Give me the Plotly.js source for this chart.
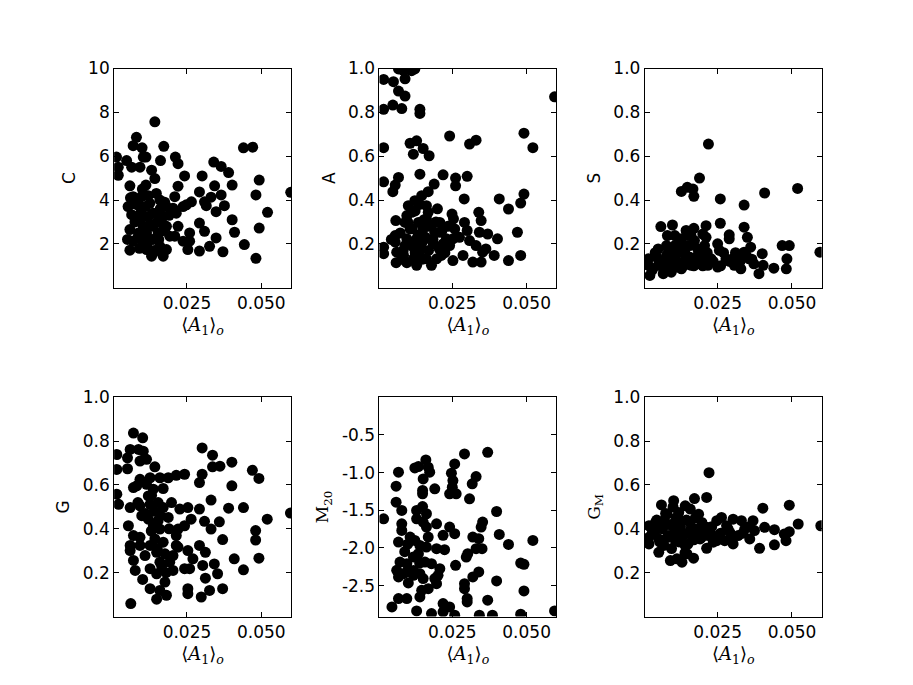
<!DOCTYPE html>
<html>
<head>
<meta charset="utf-8">
<script src="https://cdn.plot.ly/plotly-3.0.1.min.js"></script>
<style>
  html, body { margin: 0; padding: 0; background: #fff; }
  #plot { width: 913px; height: 685px; }
</style>
</head>
<body>
<div id="plot"></div>
<script>
// concentration C
var cX = [0.0142,0.0080,0.0069,0.0099,0.0172,0.0013,0.0019,0.0019,0.0047,0.0064,0.0092,0.0112,0.0131,0.0161,0.0211,0.0220,0.0242,0.0301,0.0340,0.0365,0.0390,0.0440,0.0471,0.0493,0.0402,0.0343,0.0220,0.0142,0.0112,0.0058,0.0599,0.0482,0.0521,0.0493,0.0443,0.0482,0.0402,0.0410,0.0371,0.0365,0.0376,0.0348,0.0348,0.0326,0.0292,0.0292,0.0309,0.0315,0.0331,0.0292,0.0309,0.0259,0.0259,0.0253,0.0248,0.0265,0.0237,0.0209,0.0203,0.0214,0.0220,0.0209,0.0237,0.0181,0.0170,0.0131,0.0114,0.0058,0.0069,0.0058,0.0052,0.0069,0.0064,0.0092,0.0092,0.0087,0.0103,0.0103,0.0120,0.0136,0.0136,0.0147,0.0147,0.0159,0.0170,0.0181,0.0192,0.0159,0.0165,0.0125,0.0181,0.0114,0.0153,0.0097,0.0103,
    0.0075,0.0085,0.0095,0.0105,0.0110,0.0115,0.0125,0.0128,0.0135,0.0140,0.0150,0.0155,0.0160,0.0165,0.0170,0.0080,0.0090,0.0120,0.0175,0.0060,0.0050,0.0100,0.0190];
var cY = [7.57,6.86,6.48,6.38,6.45,5.96,5.50,5.13,5.80,5.50,5.50,5.96,5.36,5.80,5.96,5.66,5.10,5.10,5.73,5.53,5.25,6.38,6.41,4.91,4.68,4.65,4.63,4.98,4.68,4.65,4.35,4.23,3.44,2.72,1.97,1.34,3.10,2.53,1.64,4.23,3.74,3.47,2.27,1.89,1.67,4.37,3.92,3.74,4.13,2.95,2.57,2.50,2.12,1.74,3.78,3.92,3.70,4.15,3.63,3.40,2.80,2.35,2.12,1.74,1.44,1.44,1.74,1.71,2.12,2.65,3.70,4.15,3.33,3.70,3.10,2.50,2.80,2.12,3.25,2.80,2.20,3.40,4.30,4.00,3.25,2.80,2.35,1.89,2.95,3.85,3.70,2.50,2.50,4.15,5.96,
    3.00,2.30,3.40,2.50,3.70,1.90,2.90,2.20,3.40,1.70,3.00,2.20,3.60,1.60,2.60,3.80,1.80,4.20,3.90,4.10,2.20,4.50,3.30];

// asymmetry A
var aX = [0.0069,0.0097,0.0124,0.0086,0.0113,0.0019,0.0052,0.0091,0.0069,0.0091,0.0594,0.0019,0.0050,0.0080,0.0141,0.0141,0.0241,0.0491,0.0521,0.0308,0.0330,0.0019,0.0108,0.0130,0.0119,0.0152,0.0172,0.0019,0.0069,0.0058,0.0050,0.0141,0.0219,0.0261,0.0261,0.0300,0.0189,0.0169,0.0147,0.0124,0.0102,0.0290,0.0408,0.0491,0.0480,0.0439,0.0339,0.0249,0.0254,0.0347,0.0291,0.0060,0.0097,0.0108,0.0091,0.0163,0.0169,0.0208,0.0208,0.0258,0.0300,0.0341,0.0369,0.0402,0.0469,0.0308,0.0330,0.0363,0.0391,0.0352,0.0480,0.0439,0.0347,0.0319,0.0286,0.0252,0.0241,0.0252,0.0219,0.0213,0.0180,0.0163,0.0141,0.0130,0.0152,0.0186,0.0191,0.0119,0.0097,0.0061,0.0063,0.0058,0.0058,0.0091,0.0097,0.0119,0.0019,0.0019,0.0152,0.0136,0.0113,0.0163,0.0169,0.0230,0.0274,0.0086,0.0197,0.0130,
    0.0045,0.0075,0.0085,0.0105,0.0115,0.0125,0.0135,0.0145,0.0155,0.0160,0.0170,0.0175,0.0185,0.0195,0.0205,0.0215,0.0225,0.0125,0.0140,0.0100,0.0080,0.0150,0.0235,0.0200];
var aY = [0.998,0.998,0.998,0.990,0.990,0.950,0.940,0.953,0.897,0.874,0.871,0.814,0.833,0.817,0.814,0.795,0.692,0.705,0.639,0.655,0.673,0.639,0.659,0.670,0.609,0.635,0.602,0.483,0.503,0.468,0.438,0.518,0.515,0.500,0.465,0.508,0.473,0.438,0.420,0.397,0.374,0.405,0.405,0.427,0.386,0.359,0.344,0.336,0.314,0.306,0.298,0.306,0.329,0.268,0.298,0.314,0.283,0.298,0.253,0.268,0.261,0.253,0.245,0.223,0.253,0.215,0.192,0.177,0.147,0.162,0.147,0.124,0.117,0.117,0.147,0.124,0.192,0.223,0.200,0.147,0.102,0.132,0.170,0.223,0.215,0.200,0.253,0.132,0.114,0.114,0.162,0.208,0.238,0.192,0.223,0.185,0.155,0.185,0.268,0.298,0.344,0.374,0.344,0.223,0.230,0.147,0.132,0.102,
    0.220,0.250,0.170,0.200,0.270,0.160,0.240,0.190,0.310,0.230,0.170,0.280,0.220,0.300,0.180,0.260,0.160,0.350,0.380,0.300,0.130,0.130,0.280,0.360];

// clumpiness S
var sX = [0.0219,0.0189,0.0128,0.0148,0.0167,0.0170,0.0259,0.0408,0.0519,0.0339,0.0059,0.0098,0.0211,0.0259,0.0339,0.0170,0.0144,0.0081,0.0289,0.0289,0.0350,0.0211,0.0467,0.0491,0.0483,0.0481,0.0594,0.0439,0.0400,0.0403,0.0389,0.0361,0.0339,0.0356,0.0317,0.0306,0.0328,0.0250,0.0256,0.0250,0.0228,0.0206,0.0183,0.0161,0.0128,0.0094,0.0067,0.0022,0.0017,0.0017,0.0044,0.0050,0.0078,0.0083,0.0106,0.0106,0.0128,0.0139,0.0144,0.0156,0.0172,0.0183,0.0200,0.0217,0.0117,0.0050,0.0078,0.0278,0.0300,0.0317,0.0372,0.0200,0.0150,0.0106,0.0122,0.0178,
    0.0030,0.0040,0.0060,0.0070,0.0085,0.0095,0.0105,0.0115,0.0120,0.0135,0.0140,0.0155,0.0160,0.0170,0.0190,0.0200,0.0215,0.0235,0.0260,0.0270,0.0290,0.0310,0.0325,0.0345,0.0365];
var sY = [0.655,0.500,0.439,0.458,0.450,0.417,0.405,0.432,0.453,0.377,0.279,0.286,0.283,0.294,0.276,0.271,0.261,0.238,0.241,0.223,0.230,0.230,0.192,0.192,0.132,0.086,0.162,0.089,0.155,0.102,0.064,0.185,0.162,0.132,0.147,0.102,0.086,0.200,0.170,0.094,0.132,0.192,0.147,0.102,0.086,0.071,0.064,0.056,0.132,0.102,0.139,0.102,0.147,0.109,0.192,0.132,0.223,0.162,0.132,0.192,0.215,0.177,0.132,0.102,0.094,0.177,0.192,0.132,0.132,0.117,0.109,0.245,0.238,0.238,0.162,0.109,
    0.080,0.160,0.120,0.080,0.170,0.100,0.150,0.120,0.200,0.100,0.190,0.140,0.240,0.100,0.160,0.100,0.160,0.120,0.100,0.160,0.120,0.160,0.120,0.150,0.130];

// Gini G
var gX = [0.0070,0.0101,0.0014,0.0014,0.0059,0.0087,0.0103,0.0050,0.0092,0.0114,0.0050,0.0142,0.0301,0.0336,0.0336,0.0361,0.0401,0.0470,0.0492,0.0301,0.0292,0.0401,0.0242,0.0214,0.0187,0.0159,0.0126,0.0092,0.0081,0.0070,0.0114,0.0137,0.0170,0.0131,0.0014,0.0020,0.0059,0.0092,0.0126,0.0153,0.0170,0.0198,0.0226,0.0253,0.0292,0.0331,0.0390,0.0440,0.0598,0.0520,0.0481,0.0481,0.0492,0.0440,0.0409,0.0370,0.0359,0.0331,0.0309,0.0264,0.0242,0.0220,0.0214,0.0214,0.0187,0.0153,0.0120,0.0098,0.0137,0.0159,0.0053,0.0070,0.0092,0.0059,0.0059,0.0092,0.0126,0.0170,0.0142,0.0109,0.0148,0.0176,0.0192,0.0159,0.0126,0.0076,0.0070,0.0101,0.0148,0.0203,0.0176,0.0126,0.0159,0.0148,0.0181,0.0061,0.0253,0.0270,0.0259,0.0242,0.0292,0.0312,0.0303,0.0342,0.0353,0.0312,0.0326,0.0298,0.0370,0.0253,0.0253,0.0203,0.0220,
    0.0110,0.0120,0.0140,0.0160,0.0130,0.0150,0.0165,0.0085,0.0190,0.0180];
var gY = [0.837,0.815,0.739,0.671,0.762,0.762,0.754,0.724,0.709,0.717,0.674,0.683,0.769,0.736,0.683,0.686,0.704,0.667,0.630,0.649,0.611,0.596,0.649,0.644,0.633,0.633,0.633,0.626,0.596,0.588,0.603,0.581,0.584,0.553,0.558,0.512,0.497,0.505,0.512,0.520,0.497,0.520,0.490,0.497,0.490,0.531,0.494,0.497,0.472,0.444,0.392,0.349,0.266,0.213,0.263,0.351,0.432,0.399,0.434,0.444,0.414,0.399,0.369,0.324,0.452,0.437,0.444,0.460,0.414,0.399,0.414,0.369,0.361,0.324,0.301,0.324,0.324,0.339,0.354,0.278,0.293,0.286,0.248,0.248,0.218,0.210,0.256,0.169,0.195,0.210,0.157,0.127,0.119,0.079,0.097,0.059,0.301,0.263,0.218,0.218,0.324,0.293,0.233,0.240,0.195,0.175,0.119,0.089,0.127,0.127,0.104,0.278,0.316,
    0.470,0.550,0.480,0.460,0.390,0.310,0.230,0.520,0.400,0.200];

// M20
var mX = [0.0291,0.0369,0.0161,0.0124,0.0136,0.0169,0.0174,0.0152,0.0069,0.0258,0.0247,0.0252,0.0250,0.0241,0.0263,0.0330,0.0317,0.0308,0.0191,0.0150,0.0150,0.0061,0.0061,0.0080,0.0019,0.0130,0.0163,0.0130,0.0152,0.0163,0.0080,0.0080,0.0069,0.0108,0.0124,0.0141,0.0169,0.0163,0.0197,0.0219,0.0241,0.0258,0.0197,0.0224,0.0136,0.0119,0.0158,0.0180,0.0074,0.0097,0.0063,0.0086,0.0102,0.0119,0.0141,0.0152,0.0191,0.0197,0.0147,0.0141,0.0169,0.0208,0.0202,0.0069,0.0097,0.0047,0.0130,0.0180,0.0219,0.0241,0.0258,0.0219,0.0300,0.0300,0.0291,0.0291,0.0319,0.0339,0.0261,0.0297,0.0302,0.0330,0.0350,0.0319,0.0339,0.0352,0.0347,0.0399,0.0408,0.0439,0.0521,0.0480,0.0491,0.0399,0.0491,0.0369,0.0480,0.0594,0.0341,0.0385,0.0097,0.0069,
    0.0100,0.0120,0.0090,0.0150,0.0140];
var mY = [-0.752,-0.730,-0.831,-0.937,-0.919,-0.928,-0.994,-1.083,-0.994,-0.884,-1.008,-1.105,-1.193,-1.281,-1.281,-1.052,-1.149,-1.348,-1.215,-1.237,-1.281,-1.180,-1.392,-1.502,-1.613,-1.502,-1.546,-1.613,-1.657,-1.723,-1.679,-1.767,-1.922,-1.855,-1.900,-1.966,-1.855,-1.988,-1.679,-1.833,-1.723,-1.811,-2.010,-2.023,-2.076,-2.120,-2.187,-2.209,-2.187,-2.209,-2.297,-2.341,-2.465,-2.363,-2.341,-2.407,-2.407,-2.474,-2.562,-2.650,-2.540,-2.275,-2.363,-2.672,-2.672,-2.783,-2.836,-2.871,-2.738,-2.783,-2.893,-2.849,-2.672,-2.716,-2.474,-2.540,-2.385,-2.319,-2.231,-2.121,-2.076,-2.010,-2.010,-1.855,-1.877,-1.657,-1.723,-1.516,-1.820,-1.953,-1.900,-2.200,-2.218,-2.438,-2.571,-2.694,-2.880,-2.836,-2.893,-2.893,-2.319,-2.385,
    -1.950,-2.300,-2.050,-1.450,-2.200];

// Gini of M20 light G_M
var gmX = [0.0221,0.0061,0.0102,0.0172,0.0213,0.0141,0.0402,0.0491,0.0521,0.0597,0.0019,0.0019,0.0019,0.0052,0.0091,0.0130,0.0169,0.0147,0.0213,0.0219,0.0213,0.0186,0.0158,0.0119,0.0080,0.0069,0.0047,0.0052,0.0069,0.0086,0.0097,0.0108,0.0119,0.0130,0.0141,0.0158,0.0163,0.0180,0.0191,0.0197,0.0247,0.0263,0.0252,0.0247,0.0280,0.0302,0.0330,0.0369,0.0302,0.0291,0.0319,0.0341,0.0358,0.0374,0.0391,0.0441,0.0408,0.0441,0.0474,0.0491,0.0480,0.0224,0.0235,0.0274,0.0041,0.0113,
    0.0030,0.0045,0.0055,0.0065,0.0075,0.0080,0.0090,0.0095,0.0105,0.0110,0.0120,0.0125,0.0135,0.0145,0.0150,0.0160,0.0170,0.0175,0.0185,0.0195,0.0205,0.0230,0.0260,0.0285,0.0300,0.0335,0.0355,0.0140,0.0100];
var gmY = [0.656,0.509,0.528,0.538,0.543,0.505,0.494,0.508,0.422,0.414,0.414,0.361,0.331,0.293,0.255,0.248,0.266,0.286,0.311,0.369,0.407,0.467,0.490,0.475,0.467,0.437,0.399,0.354,0.324,0.369,0.414,0.346,0.444,0.384,0.324,0.429,0.369,0.399,0.354,0.429,0.437,0.452,0.369,0.346,0.414,0.444,0.437,0.437,0.331,0.384,0.369,0.399,0.354,0.392,0.311,0.327,0.407,0.396,0.376,0.387,0.346,0.384,0.339,0.346,0.429,0.263,
    0.380,0.440,0.340,0.400,0.470,0.360,0.420,0.310,0.380,0.450,0.340,0.410,0.370,0.440,0.330,0.400,0.350,0.450,0.380,0.360,0.400,0.410,0.380,0.400,0.360,0.380,0.410,0.290,0.500];

var xTicks = [0.025, 0.05];
var xTickText = ['0.025', '0.050'];
var cTicks = [2, 4, 6, 8, 10];
var cTickText = ['2', '4', '6', '8', '10'];
var unitTicks = [0.2, 0.4, 0.6, 0.8, 1.0];
var unitTickText = ['0.2', '0.4', '0.6', '0.8', '1.0'];
var mTicks = [-2.5, -2.0, -1.5, -1.0, -0.5];
var mTickText = ['-2.5', '-2.0', '-1.5', '-1.0', '-0.5'];
var xTitle = '\u27E8<i>A</i><sub>1</sub>\u27E9<sub><i>o</i></sub>';

var panels = [
    { x: cX, y: cY, label: 'C', range: [0, 10], ticks: cTicks, text: cTickText, serif: false },
    { x: aX, y: aY, label: 'A', range: [0, 1], ticks: unitTicks, text: unitTickText, serif: false },
    { x: sX, y: sY, label: 'S', range: [0, 1], ticks: unitTicks, text: unitTickText, serif: false },
    { x: gX, y: gY, label: 'G', range: [0, 1], ticks: unitTicks, text: unitTickText, serif: false },
    { x: mX, y: mY, label: 'M<sub>20</sub>', range: [-2.91, 0], ticks: mTicks, text: mTickText, serif: true },
    { x: gmX, y: gmY, label: 'G<sub>M</sub>', range: [0, 1], ticks: unitTicks, text: unitTickText, serif: true }
];

var xDomains = [[0.125, 0.31875], [0.415625, 0.609375], [0.70625, 0.9]];
var yDomains = [[0.58, 0.9], [0.1, 0.42]];

var traces = [];
var layout = {
    width: 913,
    height: 685,
    margin: { l: 0, r: 0, t: 0, b: 0 },
    paper_bgcolor: 'white',
    plot_bgcolor: 'white',
    showlegend: false,
    font: { family: 'DejaVu Sans', color: 'black', size: 17 }
};

for (var i = 0; i < panels.length; i++) {
    var p = panels[i];
    var n = i === 0 ? '' : String(i + 1);
    traces.push({
        x: p.x,
        y: p.y,
        xaxis: 'x' + n,
        yaxis: 'y' + n,
        type: 'scatter',
        mode: 'markers',
        marker: { color: 'black', size: 11, line: { width: 0 } },
        cliponaxis: true,
        hoverinfo: 'skip'
    });

    var common = {
        showline: true,
        linecolor: 'black',
        linewidth: 1,
        mirror: 'allticks',
        ticks: 'inside',
        ticklen: 5,
        tickwidth: 1,
        tickcolor: 'black',
        showgrid: false,
        zeroline: false,
        fixedrange: true
    };

    layout['xaxis' + n] = Object.assign({}, common, {
        domain: xDomains[i % 3],
        anchor: 'y' + n,
        range: [0.0005, 0.06],
        tickmode: 'array',
        tickvals: xTicks,
        ticktext: xTickText,
        tickfont: { size: 17 },
        title: { text: xTitle, font: { family: 'DejaVu Serif', size: 18 }, standoff: 6 }
    });

    layout['yaxis' + n] = Object.assign({}, common, {
        domain: yDomains[Math.floor(i / 3)],
        anchor: 'x' + n,
        range: p.range,
        tickmode: 'array',
        tickvals: p.ticks,
        ticktext: p.text,
        tickfont: { size: 17 },
        title: {
            text: p.label,
            font: { family: p.serif ? 'DejaVu Serif' : 'DejaVu Sans', size: 17 },
            standoff: 8
        }
    });
}

var plotElement = document.getElementById('plot');
if (plotElement) {
    Plotly.newPlot('plot', traces, layout, { staticPlot: true });
} else {
    console.error("No DOM element with id 'plot' exists on the page.");
}
</script>
</body>
</html>
